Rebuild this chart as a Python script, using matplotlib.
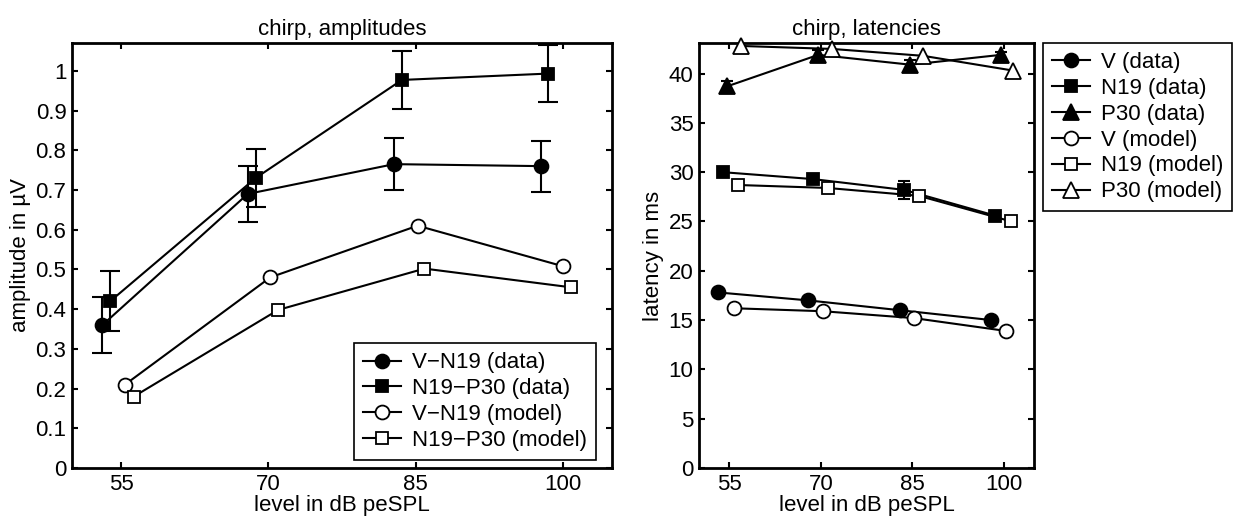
import matplotlib
matplotlib.use('Agg')
import matplotlib.pyplot as plt

plt.rcParams['font.family'] = ['Liberation Sans', 'DejaVu Sans']
plt.rcParams['axes.unicode_minus'] = True

# ---------------- data: amplitudes (left) ----------------
amp_vn19_data_x = [53.1, 67.9, 82.8, 97.8]
amp_vn19_data_y = [0.36, 0.69, 0.765, 0.76]
amp_vn19_data_err = [0.07, 0.07, 0.066, 0.064]

amp_n19p30_data_x = [53.9, 68.7, 83.6, 98.5]
amp_n19p30_data_y = [0.42, 0.73, 0.977, 0.993]
amp_n19p30_data_err = [0.075, 0.074, 0.072, 0.071]

amp_vn19_model_x = [55.4, 70.2, 85.2, 100.0]
amp_vn19_model_y = [0.21, 0.48, 0.61, 0.508]

amp_n19p30_model_x = [56.3, 71.0, 85.9, 100.8]
amp_n19p30_model_y = [0.18, 0.398, 0.502, 0.455]

# ---------------- data: latencies (right) ----------------
lat_v_data_x = [53.2, 67.9, 83.0, 98.0]
lat_v_data_y = [17.8, 17.0, 16.0, 15.0]
lat_v_data_err = [0.2, 0.2, 0.2, 0.2]

lat_n19_data_x = [53.9, 68.7, 83.7, 98.6]
lat_n19_data_y = [30.0, 29.3, 28.2, 25.6]
lat_n19_data_err = [0.2, 0.3, 0.9, 0.2]

lat_p30_data_x = [54.6, 69.6, 84.7, 99.6]
lat_p30_data_y = [38.7, 41.9, 40.9, 41.9]
lat_p30_data_err = [0.5, 0.5, 0.5, 0.3]

lat_v_model_x = [55.7, 70.3, 85.3, 100.4]
lat_v_model_y = [16.2, 15.9, 15.2, 13.9]

lat_n19_model_x = [56.4, 71.1, 86.1, 101.3]
lat_n19_model_y = [28.7, 28.4, 27.6, 25.0]

lat_p30_model_x = [56.9, 71.8, 86.8, 101.6]
lat_p30_model_y = [42.8, 42.5, 41.8, 40.3]

xticks = [55, 70, 85, 100]
amp_yticks = [0, 0.1, 0.2, 0.3, 0.4, 0.5, 0.6, 0.7, 0.8, 0.9, 1]
amp_yticklabels = ['0', '0.1', '0.2', '0.3', '0.4', '0.5', '0.6', '0.7', '0.8', '0.9', '1']
lat_yticks = [0, 5, 10, 15, 20, 25, 30, 35, 40]

FS = 16
W, H = 1246, 529
fig = plt.figure(figsize=(W / 100, H / 100), dpi=100)
ax1 = fig.add_axes([72 / W, 61 / H, 540 / W, 425 / H])
ax2 = fig.add_axes([699 / W, 61 / H, 335 / W, 425 / H])

MS = {'o': 10, 's': 9, '^': 12}


def series(ax, x, y, marker, filled, label, err=None, cap=7):
    mfc = 'black' if filled else 'white'
    if err is not None:
        ax.errorbar(x, y, yerr=err, fmt='none', ecolor='black', elinewidth=1.5,
                    capsize=cap, capthick=1.5, zorder=2, clip_on=False)
    ax.plot(x, y, color='black', lw=1.5, marker=marker, ms=MS[marker], mfc=mfc,
            mec='black', mew=1.3, label=label, zorder=3, clip_on=False)


series(ax1, amp_vn19_data_x, amp_vn19_data_y, 'o', True, 'V\u2212N19 (data)', amp_vn19_data_err)
series(ax1, amp_n19p30_data_x, amp_n19p30_data_y, 's', True, 'N19\u2212P30 (data)', amp_n19p30_data_err)
series(ax1, amp_vn19_model_x, amp_vn19_model_y, 'o', False, 'V\u2212N19 (model)')
series(ax1, amp_n19p30_model_x, amp_n19p30_model_y, 's', False, 'N19\u2212P30 (model)')

series(ax2, lat_v_data_x, lat_v_data_y, 'o', True, 'V (data)', lat_v_data_err, cap=4)
series(ax2, lat_n19_data_x, lat_n19_data_y, 's', True, 'N19 (data)', lat_n19_data_err, cap=4)
series(ax2, lat_p30_data_x, lat_p30_data_y, '^', True, 'P30 (data)', lat_p30_data_err, cap=4)
series(ax2, lat_v_model_x, lat_v_model_y, 'o', False, 'V (model)')
series(ax2, lat_n19_model_x, lat_n19_model_y, 's', False, 'N19 (model)')
series(ax2, lat_p30_model_x, lat_p30_model_y, '^', False, 'P30 (model)')

for ax in (ax1, ax2):
    ax.set_xlim(50, 105)
    ax.set_xticks(xticks)
    ax.set_xticklabels([str(v) for v in xticks])
    ax.tick_params(direction='in', top=True, right=True, length=4, width=1.5,
                   labelsize=FS, pad=4)
    for s in ax.spines.values():
        s.set_linewidth(2)
    ax.set_xlabel('level in dB peSPL', fontsize=FS, labelpad=0)

ax1.set_ylim(0, 1.07)
ax1.set_yticks(amp_yticks)
ax1.set_yticklabels(amp_yticklabels)
ax1.set_ylabel('amplitude in \u00b5V', fontsize=FS, labelpad=3)
ax1.set_title('chirp, amplitudes', fontsize=FS, pad=6)

ax2.set_ylim(0, 43.1)
ax2.set_yticks(lat_yticks)
ax2.set_ylabel('latency in ms', fontsize=FS, labelpad=3)
ax2.set_title('chirp, latencies', fontsize=FS, pad=6)

leg_kw = dict(fontsize=FS, frameon=True, fancybox=False, framealpha=1,
              edgecolor='black', handlelength=1.7, handletextpad=0.5,
              labelspacing=0.22, borderaxespad=0, borderpad=0.4)
l1 = ax1.legend(loc='lower right', bbox_to_anchor=(0.970, 0.019), **leg_kw)
l1.get_frame().set_linewidth(1.2)
l2 = ax2.legend(loc='upper left', bbox_to_anchor=(1043 / W, 1 - 43 / H),
                bbox_transform=fig.transFigure, **leg_kw)
l2.get_frame().set_linewidth(1.2)

fig.savefig('out.png', dpi=100)
